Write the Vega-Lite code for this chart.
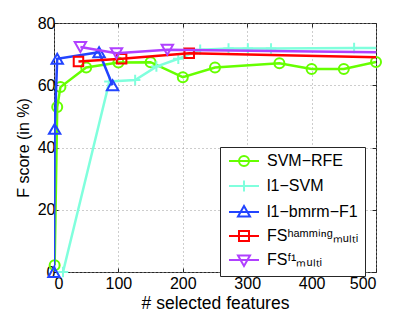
{
  "$schema": "https://vega.github.io/schema/vega-lite/v6.json",
  "width": 322,
  "height": 249,
  "autosize": {"type": "none"},
  "padding": {"left": 54, "top": 23, "right": 39, "bottom": 40},
  "background": "white",
  "config": {
    "font": "Liberation Sans",
    "view": {"stroke": "#262626", "strokeWidth": 1},
    "axis": {
      "domain": false,
      "grid": true,
      "gridColor": "#9a9a9a",
      "gridDash": [1, 3],
      "gridWidth": 1,
      "tickColor": "#262626",
      "tickSize": -4,
      "labelFont": "Liberation Sans",
      "labelFontSize": 16,
      "labelColor": "black",
      "titleFont": "Liberation Sans",
      "titleFontWeight": "normal",
      "titleColor": "black"
    }
  },
  "datasets": {
    "scores": [
      {"method": "SVM−RFE", "features": 1, "fscore": 2.2},
      {"method": "SVM−RFE", "features": 5, "fscore": 53},
      {"method": "SVM−RFE", "features": 10, "fscore": 59.4},
      {"method": "SVM−RFE", "features": 50, "fscore": 65.7},
      {"method": "SVM−RFE", "features": 100, "fscore": 67.3},
      {"method": "SVM−RFE", "features": 150, "fscore": 67.4},
      {"method": "SVM−RFE", "features": 200, "fscore": 62.6},
      {"method": "SVM−RFE", "features": 250, "fscore": 65.7},
      {"method": "SVM−RFE", "features": 350, "fscore": 67.1},
      {"method": "SVM−RFE", "features": 400, "fscore": 65.2},
      {"method": "SVM−RFE", "features": 450, "fscore": 65.2},
      {"method": "SVM−RFE", "features": 500, "fscore": 67.5},
      {"method": "l1−SVM", "features": 14, "fscore": 0},
      {"method": "l1−SVM", "features": 86, "fscore": 61.2},
      {"method": "l1−SVM", "features": 126, "fscore": 61.7},
      {"method": "l1−SVM", "features": 159, "fscore": 66},
      {"method": "l1−SVM", "features": 193, "fscore": 68.5},
      {"method": "l1−SVM", "features": 227, "fscore": 71.4},
      {"method": "l1−SVM", "features": 271, "fscore": 71.8},
      {"method": "l1−SVM", "features": 301, "fscore": 71.8},
      {"method": "l1−SVM", "features": 337, "fscore": 71.8},
      {"method": "l1−SVM", "features": 466, "fscore": 72},
      {"method": "l1−SVM", "features": 600, "fscore": 71.8},
      {"method": "l1−bmrm−F1", "features": 0, "fscore": 0},
      {"method": "l1−bmrm−F1", "features": 1, "fscore": 46},
      {"method": "l1−bmrm−F1", "features": 5, "fscore": 68.5},
      {"method": "l1−bmrm−F1", "features": 70, "fscore": 70.6},
      {"method": "l1−bmrm−F1", "features": 91, "fscore": 60},
      {"method": "FS hamming", "features": 38, "fscore": 67.6},
      {"method": "FS hamming", "features": 105, "fscore": 68.5},
      {"method": "FS hamming", "features": 210, "fscore": 70.3},
      {"method": "FS hamming", "features": 1000, "fscore": 66.8},
      {"method": "FS F1", "features": 41, "fscore": 72.3},
      {"method": "FS F1", "features": 97, "fscore": 70.3},
      {"method": "FS F1", "features": 176, "fscore": 71.4},
      {"method": "FS F1", "features": 1000, "fscore": 69.4}
    ]
  },
  "data": {"name": "scores"},
  "encoding": {
    "x": {"field": "features", "type": "quantitative", "scale": {"domain": [0, 500], "nice": false}, "axis": {"values": [0, 100, 200, 300, 400, 500], "title": "# selected features", "titleFontSize": 17.5, "labelPadding": 7, "titlePadding": 3}},
    "y": {"field": "fscore", "type": "quantitative", "scale": {"domain": [0, 80], "nice": false}, "axis": {"values": [0, 20, 40, 60, 80], "title": "F score (in %)", "titleFontSize": 16, "labelPadding": 3, "titlePadding": 6}}
  },
  "resolve": {"axis": {"x": "independent", "y": "independent"}},
  "layer": [
    {
      "layer": [
        {"transform": [{"filter": "datum.method == 'SVM−RFE'"}], "mark": {"type": "line", "color": "#66ff00", "strokeWidth": 2.5, "clip": true}},
        {"transform": [{"filter": "datum.method == 'SVM−RFE' && datum.features <= 500"}], "mark": {"type": "point", "shape": "circle", "filled": false, "color": "#66ff00", "size": 100, "strokeWidth": 2, "opacity": 1}},
        {"transform": [{"filter": "datum.method == 'l1−SVM'"}], "mark": {"type": "line", "color": "#80ffdd", "strokeWidth": 2.5, "clip": true}},
        {"transform": [{"filter": "datum.method == 'l1−SVM' && datum.features <= 500"}], "mark": {"type": "point", "shape": "M-1,0L1,0M0,-1L0,1", "filled": false, "color": "#80ffdd", "size": 110, "strokeWidth": 2, "opacity": 1}},
        {"transform": [{"filter": "datum.method == 'l1−bmrm−F1'"}], "mark": {"type": "line", "color": "#2244ff", "strokeWidth": 2.5, "clip": true}},
        {"transform": [{"filter": "datum.method == 'l1−bmrm−F1' && datum.features <= 500"}], "mark": {"type": "point", "shape": "triangle-up", "filled": false, "color": "#2244ff", "size": 130, "strokeWidth": 2, "opacity": 1}},
        {"transform": [{"filter": "datum.method == 'FS hamming'"}], "mark": {"type": "line", "color": "#ff0000", "strokeWidth": 2.5, "clip": true}},
        {"transform": [{"filter": "datum.method == 'FS hamming' && datum.features <= 500"}], "mark": {"type": "point", "shape": "square", "filled": false, "color": "#ff0000", "size": 90, "strokeWidth": 2, "opacity": 1}},
        {"transform": [{"filter": "datum.method == 'FS F1'"}], "mark": {"type": "line", "color": "#b040ff", "strokeWidth": 2.5, "clip": true}},
        {"transform": [{"filter": "datum.method == 'FS F1' && datum.features <= 500"}], "mark": {"type": "point", "shape": "triangle-down", "filled": false, "color": "#b040ff", "size": 130, "strokeWidth": 2, "opacity": 1}}
      ]
    },
    {
      "transform": [{"filter": "false"}],
      "mark": {"type": "point", "filled": false, "strokeWidth": 2},
      "encoding": {
        "x": {"field": "features", "type": "quantitative", "axis": {"orient": "top", "labels": false, "grid": false, "title": null, "values": [0, 100, 200, 300, 400, 500]}},
        "y": {"field": "fscore", "type": "quantitative", "axis": {"orient": "right", "labels": false, "grid": false, "title": null, "values": [0, 20, 40, 60, 80]}},
        "color": {
          "field": "method", "type": "nominal",
          "scale": {"domain": ["SVM−RFE", "l1−SVM", "l1−bmrm−F1", "FS hamming", "FS F1"], "range": ["#66ff00", "#80ffdd", "#2244ff", "#ff0000", "#b040ff"]},
          "legend": {"orient": "none", "legendX": 166, "legendY": 124, "title": null, "padding": 6, "strokeColor": "#262626", "fillColor": "white", "symbolSize": 100, "symbolStrokeWidth": 2, "symbolOpacity": 1, "labelOffset": 25, "labelFontSize": 16, "labelFont": "Liberation Sans", "labelColor": "black", "labelLimit": 300, "rowPadding": 6,
            "labelExpr": "datum.value == 'FS hamming' ? 'FSʰᵃᵐᵐⁱⁿᵍₘᵤₗₜᵢ' : datum.value == 'FS F1' ? 'FSᶠ¹ₘᵤₗₜᵢ' : datum.label"}
        },
        "shape": {
          "field": "method", "type": "nominal",
          "scale": {"domain": ["SVM−RFE", "l1−SVM", "l1−bmrm−F1", "FS hamming", "FS F1"], "range": [
            "M-1,0L5,0M1,0A1,1 0 1,1 3,0A1,1 0 1,1 1,0Z",
            "M-1,0L5,0M2,-1.1L2,1.1",
            "M-1,0L5,0M2,-1.2L3.2,0.9L0.8,0.9Z",
            "M-1,0L5,0M1,-1L3,-1L3,1L1,1Z",
            "M-1,0L5,0M2,1.2L3.2,-0.9L0.8,-0.9Z"
          ]},
          "legend": {"orient": "none", "legendX": 166, "legendY": 124, "title": null, "padding": 6, "strokeColor": "#262626", "fillColor": "white", "symbolSize": 100, "symbolStrokeWidth": 2, "symbolOpacity": 1, "labelOffset": 25, "labelFontSize": 16, "labelFont": "Liberation Sans", "labelColor": "black", "labelLimit": 300, "rowPadding": 6,
            "labelExpr": "datum.value == 'FS hamming' ? 'FSʰᵃᵐᵐⁱⁿᵍₘᵤₗₜᵢ' : datum.value == 'FS F1' ? 'FSᶠ¹ₘᵤₗₜᵢ' : datum.label"}
        }
      }
    }
  ]
}
